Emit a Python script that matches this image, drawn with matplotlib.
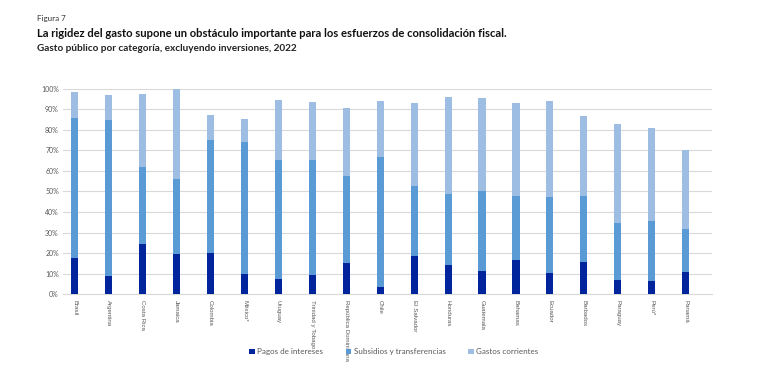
import numpy as np
import matplotlib.pyplot as plt
from matplotlib.ticker import FuncFormatter

countries = ["Brasil", "Argentina", "Costa Rica", "Jamaica", "Colombia", "México*",
             "Uruguay", "Trinidad y Tobago", "República Dominicana", "Chile",
             "El Salvador", "Honduras", "Guatemala", "Bahamas", "Ecuador",
             "Barbados", "Paraguay", "Perú*", "Panamá"]

# shares of total spending (%)
intereses = [17.5, 8.6, 24.2, 19.5, 20.0, 9.9, 7.3, 9.1, 15.1, 3.7,
             18.8, 14.0, 11.5, 16.4, 10.1, 15.4, 7.1, 6.2, 10.6]
subsidios = [68.5, 76.0, 37.8, 36.8, 55.3, 64.0, 58.1, 56.3, 42.4, 63.0,
             34.0, 35.0, 38.7, 31.2, 37.0, 32.2, 27.6, 29.2, 20.9]
corrientes = [12.4, 12.5, 35.4, 43.7, 12.2, 11.5, 29.2, 28.4, 33.2, 27.3,
              40.4, 46.9, 45.4, 45.6, 47.1, 39.1, 48.4, 45.6, 38.5]

c_dark = "#00249c"
c_mid = "#5b9bd5"
c_light = "#9dbde2"
grey = "#595959"

plt.rcParams['font.family'] = ['Lato', 'DejaVu Sans']

fig = plt.figure(figsize=(7.72, 3.88), dpi=100)
ax = fig.add_axes([0.0816, 0.242, 0.8404, 0.529])

x = np.arange(len(countries))
w = 0.21
b1 = np.array(intereses)
b2 = b1 + np.array(subsidios)
ax.bar(x, intereses, w, color=c_dark, label="Pagos de intereses", zorder=3)
ax.bar(x, subsidios, w, bottom=b1, color=c_mid, label="Subsidios y transferencias", zorder=3)
ax.bar(x, corrientes, w, bottom=b2, color=c_light, label="Gastos corrientes", zorder=3)

ax.set_ylim(0, 100)
ax.set_xlim(-0.35, len(countries) - 0.23)
ax.set_yticks(np.arange(0, 101, 10))
ax.yaxis.set_major_formatter(FuncFormatter(lambda v, p: f"{v:.0f}%"))
ax.grid(axis='y', color="#d9d9d9", linewidth=0.8, zorder=0)
for s in ['top', 'right', 'left']:
    ax.spines[s].set_visible(False)
ax.spines['bottom'].set_color("#d9d9d9")
ax.tick_params(axis='both', length=0, labelsize=5, labelcolor=grey)
ax.set_xticks(x)
ax.set_xticklabels(countries, rotation=270, va='top', ha='center', fontsize=4.4,
                   family=['Liberation Sans', 'DejaVu Sans'])
ax.tick_params(axis='x', pad=4)
ax.tick_params(axis='y', pad=3)

fig.text(0.048, 0.945, "Figura 7", fontsize=5.8, color="#333333")
fig.text(0.048, 0.905, "La rigidez del gasto supone un obstáculo importante para los esfuerzos de consolidación fiscal.",
         fontsize=8.1, fontweight='bold', color="#111111")
fig.text(0.048, 0.868, "Gasto público por categoría, excluyendo inversiones, 2022",
         fontsize=7.2, fontweight='bold', color="#222222")

fig.legend(loc='center', bbox_to_anchor=(0.51, 0.093), ncol=3, frameon=False,
           fontsize=5.8, handlelength=0.7, handleheight=0.7, columnspacing=2.8,
           handletextpad=0.3, labelcolor=grey)

fig.savefig("out.png", dpi=100)
